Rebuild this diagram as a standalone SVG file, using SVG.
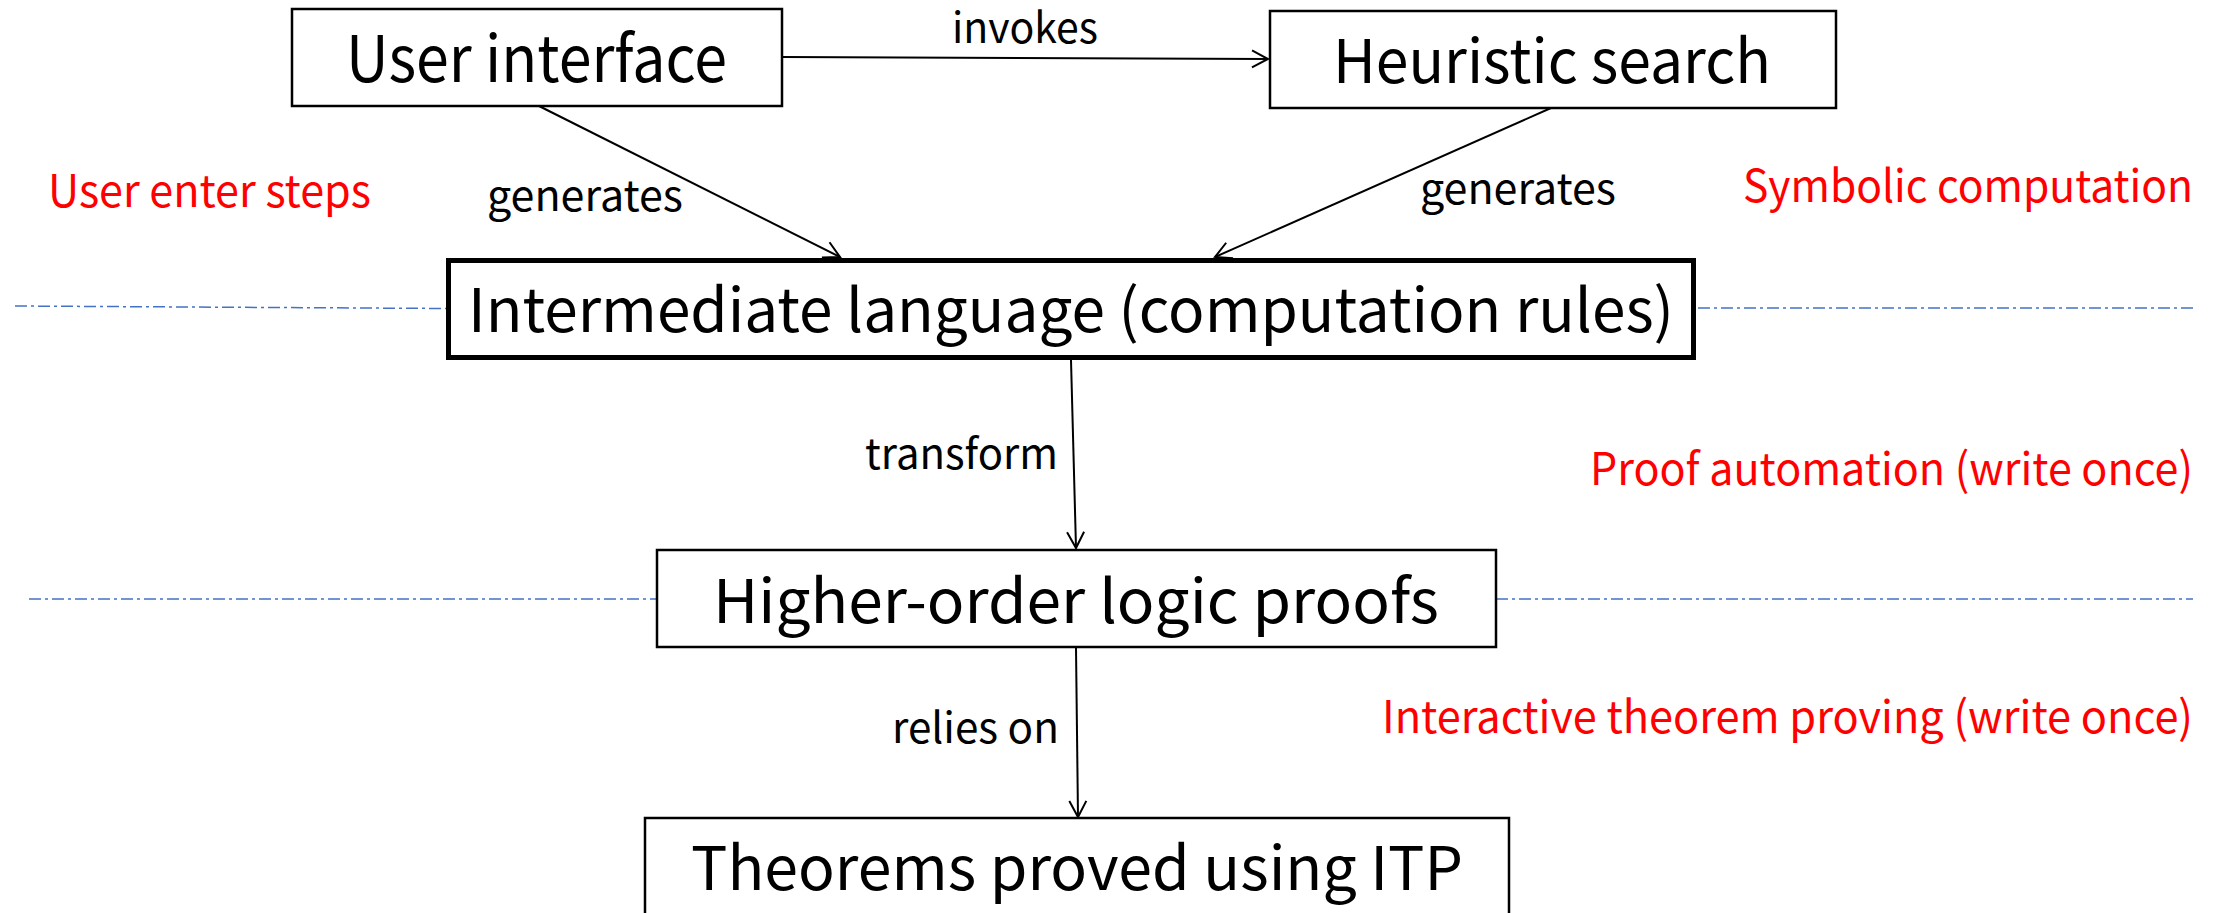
<svg xmlns="http://www.w3.org/2000/svg" width="2226" height="913" viewBox="0 0 2226 913">
  <style>
    .box { fill: #ffffff; stroke: #000000; stroke-width: 2.5; }
    .box-main { fill: #ffffff; stroke: #000000; stroke-width: 5; }
    .node-text { font-family: "Noto Sans CJK SC", "Noto Sans", "Liberation Sans", sans-serif; font-size: 60px; fill: #000000; }
    .edge { fill: none; stroke: #000000; stroke-width: 2; marker-end: url(#arrow); }
    .edge-label { font-family: "Noto Sans CJK SC", "Noto Sans", "Liberation Sans", sans-serif; font-size: 43px; fill: #000000; }
    .layer-label { font-family: "Noto Sans CJK SC", "Noto Sans", "Liberation Sans", sans-serif; font-size: 45px; fill: #ff0000; }
    .divider { fill: none; stroke: #4472c4; stroke-width: 1.5; stroke-dasharray: 12 4 3 4; }
  </style>
  <defs>
    <marker id="arrow" markerUnits="userSpaceOnUse" markerWidth="20" markerHeight="20" viewBox="-18 -10 20 20" refX="0" refY="0" orient="auto" overflow="visible">
      <path d="M -16 -8.5 L 0 0 L -16 8.5" fill="none" stroke="#000000" stroke-width="2"/>
    </marker>
  </defs>
  <rect width="2226" height="913" fill="#ffffff"/>

  <!-- layer dividers -->
  <g id="dividers">
    <line class="divider" x1="15" y1="306" x2="447" y2="308.5"/>
    <line class="divider" x1="1698" y1="308" x2="2193" y2="308"/>
    <line class="divider" x1="29" y1="599" x2="656" y2="599"/>
    <line class="divider" x1="1496" y1="599" x2="2193" y2="599"/>
  </g>

  <!-- layer annotations -->
  <g id="layer-labels">
    <text class="layer-label" x="48" y="207" textLength="323" lengthAdjust="spacingAndGlyphs">User enter steps</text>
    <text class="layer-label" x="1743" y="202" textLength="450" lengthAdjust="spacingAndGlyphs">Symbolic computation</text>
    <text class="layer-label" x="1590" y="485" textLength="603" lengthAdjust="spacingAndGlyphs">Proof automation (write once)</text>
    <text class="layer-label" x="1382" y="733" textLength="811" lengthAdjust="spacingAndGlyphs">Interactive theorem proving (write once)</text>
  </g>

  <!-- connectors -->
  <g id="connectors">
    <line class="edge" x1="783" y1="57" x2="1268" y2="59"/>
    <line class="edge" x1="539" y1="106" x2="840" y2="257"/>
    <line class="edge" x1="1551" y1="108" x2="1215" y2="257"/>
    <line class="edge" x1="1071" y1="360" x2="1076" y2="548"/>
    <line class="edge" x1="1076" y1="648" x2="1078" y2="817"/>
    <text class="edge-label" x="952" y="43" textLength="146" lengthAdjust="spacingAndGlyphs">invokes</text>
    <text class="edge-label" x="487" y="211" textLength="196" lengthAdjust="spacingAndGlyphs">generates</text>
    <text class="edge-label" x="1420" y="204" textLength="196" lengthAdjust="spacingAndGlyphs">generates</text>
    <text class="edge-label" x="865" y="469" textLength="193" lengthAdjust="spacingAndGlyphs">transform</text>
    <text class="edge-label" x="892" y="743" textLength="167" lengthAdjust="spacingAndGlyphs">relies on</text>
  </g>

  <!-- nodes -->
  <g id="node-user-interface">
    <rect class="box" x="292" y="9" width="490" height="97"/>
    <text class="node-text" x="346" y="82" style="font-size:64px" textLength="381" lengthAdjust="spacingAndGlyphs">User interface</text>
  </g>
  <g id="node-heuristic-search">
    <rect class="box" x="1270" y="11" width="566" height="97"/>
    <text class="node-text" x="1333" y="83" textLength="438" lengthAdjust="spacingAndGlyphs">Heuristic search</text>
  </g>
  <g id="node-intermediate-language">
    <rect class="box-main" x="448.5" y="260.5" width="1245" height="97"/>
    <text class="node-text" x="468" y="332" textLength="1206" lengthAdjust="spacingAndGlyphs">Intermediate language (computation rules)</text>
  </g>
  <g id="node-hol-proofs">
    <rect class="box" x="657" y="550" width="839" height="97"/>
    <text class="node-text" x="713" y="623" textLength="726" lengthAdjust="spacingAndGlyphs">Higher-order logic proofs</text>
  </g>
  <g id="node-theorems">
    <rect class="box" x="645" y="818" width="864" height="130"/>
    <text class="node-text" x="691" y="890" textLength="772" lengthAdjust="spacingAndGlyphs">Theorems proved using ITP</text>
  </g>
</svg>
